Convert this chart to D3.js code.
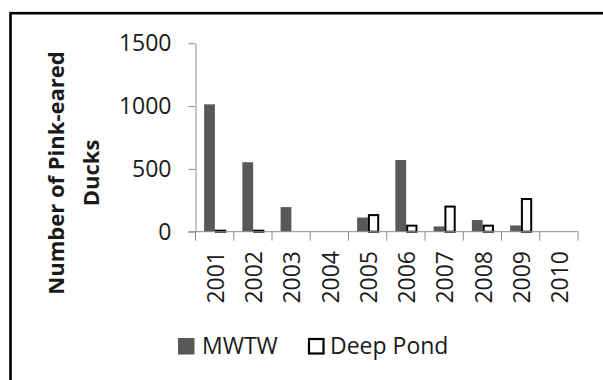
<!DOCTYPE html>
<html>
<head>
<meta charset="utf-8">
<script src="https://cdn.jsdelivr.net/npm/d3@7"></script>
<style>
  html, body { margin: 0; padding: 0; background: #fff; }
  svg { display: block; }
  text { font-family: "Open Sans", sans-serif; fill: #1a1a1a; }
</style>
</head>
<body>
<svg id="chart" width="603" height="380"></svg>
<script>
const years = ["2001","2002","2003","2004","2005","2006","2007","2008","2009","2010"];
const seriesNames = ["MWTW", "Deep Pond"];
const mwtw = [1014, 553, 196, 0, 113, 571, 42, 93, 50, 0];
const deepPond = [8, 8, 0, 0, 132, 48, 200, 48, 260, 0];
const yTicks = [0, 500, 1000, 1500];
const yLabelLines = ["Number of Pink-eared", "Ducks"];

const svg = d3.select("#chart");

// outer frame (only top/left edges visible within crop)
svg.append("rect")
  .attr("x", 10.5).attr("y", 13.2)
  .attr("width", 800).attr("height", 600)
  .attr("fill", "none").attr("stroke", "#000").attr("stroke-width", 2.6);

const x = d3.scaleBand().domain(years).range([195.5, 578]).paddingInner(0).paddingOuter(0);
const xs = d3.scaleBand().domain(seriesNames).range([8.6, 30.2]);
const y = d3.scaleLinear().domain([0, 1500]).range([231.7, 43.3]);

const data = years.map((yr, i) => ({ year: yr, values: [
  { s: "MWTW", v: mwtw[i] }, { s: "Deep Pond", v: deepPond[i] } ] }));

// y axis
const yAxis = svg.append("g").attr("transform", "translate(195.5,0)")
  .call(d3.axisLeft(y).tickValues(yTicks).tickSize(7).tickSizeOuter(0).tickPadding(17).tickFormat(d3.format("d")));
yAxis.select(".domain").attr("stroke", "#8c8c8c");
yAxis.selectAll(".tick line").attr("stroke", "#8c8c8c");
yAxis.selectAll(".tick text").style("font-size", "23px").style("font-family", "'Open Sans', sans-serif").attr("fill", "#1a1a1a");

// bars
const groups = svg.append("g").selectAll("g").data(data).join("g")
  .attr("transform", d => `translate(${x(d.year)},0)`);
groups.selectAll("rect").data(d => d.values.filter(v => v.v > 0)).join("rect")
  .attr("x", d => xs(d.s) + (d.s === "Deep Pond" ? 1 : 0))
  .attr("y", d => y(d.v))
  .attr("width", d => xs.bandwidth() - (d.s === "Deep Pond" ? 1.5 : 0))
  .attr("height", d => y(0) - y(d.v))
  .attr("fill", d => d.s === "MWTW" ? "#595959" : "#fff")
  .attr("stroke", d => d.s === "MWTW" ? "none" : "#000")
  .attr("stroke-width", 2);

// x axis
const xg = svg.append("g");
xg.append("line")
  .attr("x1", x.range()[0] - 7).attr("x2", x.range()[1])
  .attr("y1", y(0)).attr("y2", y(0))
  .attr("stroke", "#8c8c8c");
const boundaries = years.map(d => x(d)).concat([x.range()[1]]);
xg.selectAll("line.tk").data(boundaries).join("line").attr("class", "tk")
  .attr("x1", d => d).attr("x2", d => d)
  .attr("y1", y(0)).attr("y2", y(0) + 9)
  .attr("stroke", "#8c8c8c");
xg.selectAll("text").data(years).join("text")
  .attr("transform", d => `translate(${x(d) + x.bandwidth() / 2 + 1},251) rotate(-90)`)
  .attr("text-anchor", "end")
  .attr("dy", "0.36em")
  .style("font-size", "23px")
  .text(d => d);

// y label
svg.selectAll("text.ylab").data(yLabelLines).join("text").attr("class", "ylab")
  .attr("transform", (d, i) => `translate(${i === 0 ? 63.5 : 98.5},173) rotate(-90)`)
  .attr("text-anchor", "middle")
  .style("font-size", "22px").style("font-weight", "bold")
  .attr("fill", "#000")
  .text(d => d);

// legend
const legendX = [178, 308];
const leg = svg.append("g").selectAll("g").data(seriesNames).join("g")
  .attr("transform", (d, i) => `translate(${legendX[i]},338)`);
leg.append("rect")
  .attr("x", d => d === "MWTW" ? 0 : 1).attr("y", d => d === "MWTW" ? 0 : 1)
  .attr("width", d => d === "MWTW" ? 16.5 : 14.5).attr("height", d => d === "MWTW" ? 16.5 : 14.5)
  .attr("fill", d => d === "MWTW" ? "#595959" : "#fff")
  .attr("stroke", d => d === "MWTW" ? "none" : "#000").attr("stroke-width", 2.2);
leg.append("text")
  .attr("x", d => d === "MWTW" ? 24 : 22).attr("y", 15.5)
  .style("font-size", "23px")
  .text(d => d);
</script>
</body>
</html>
